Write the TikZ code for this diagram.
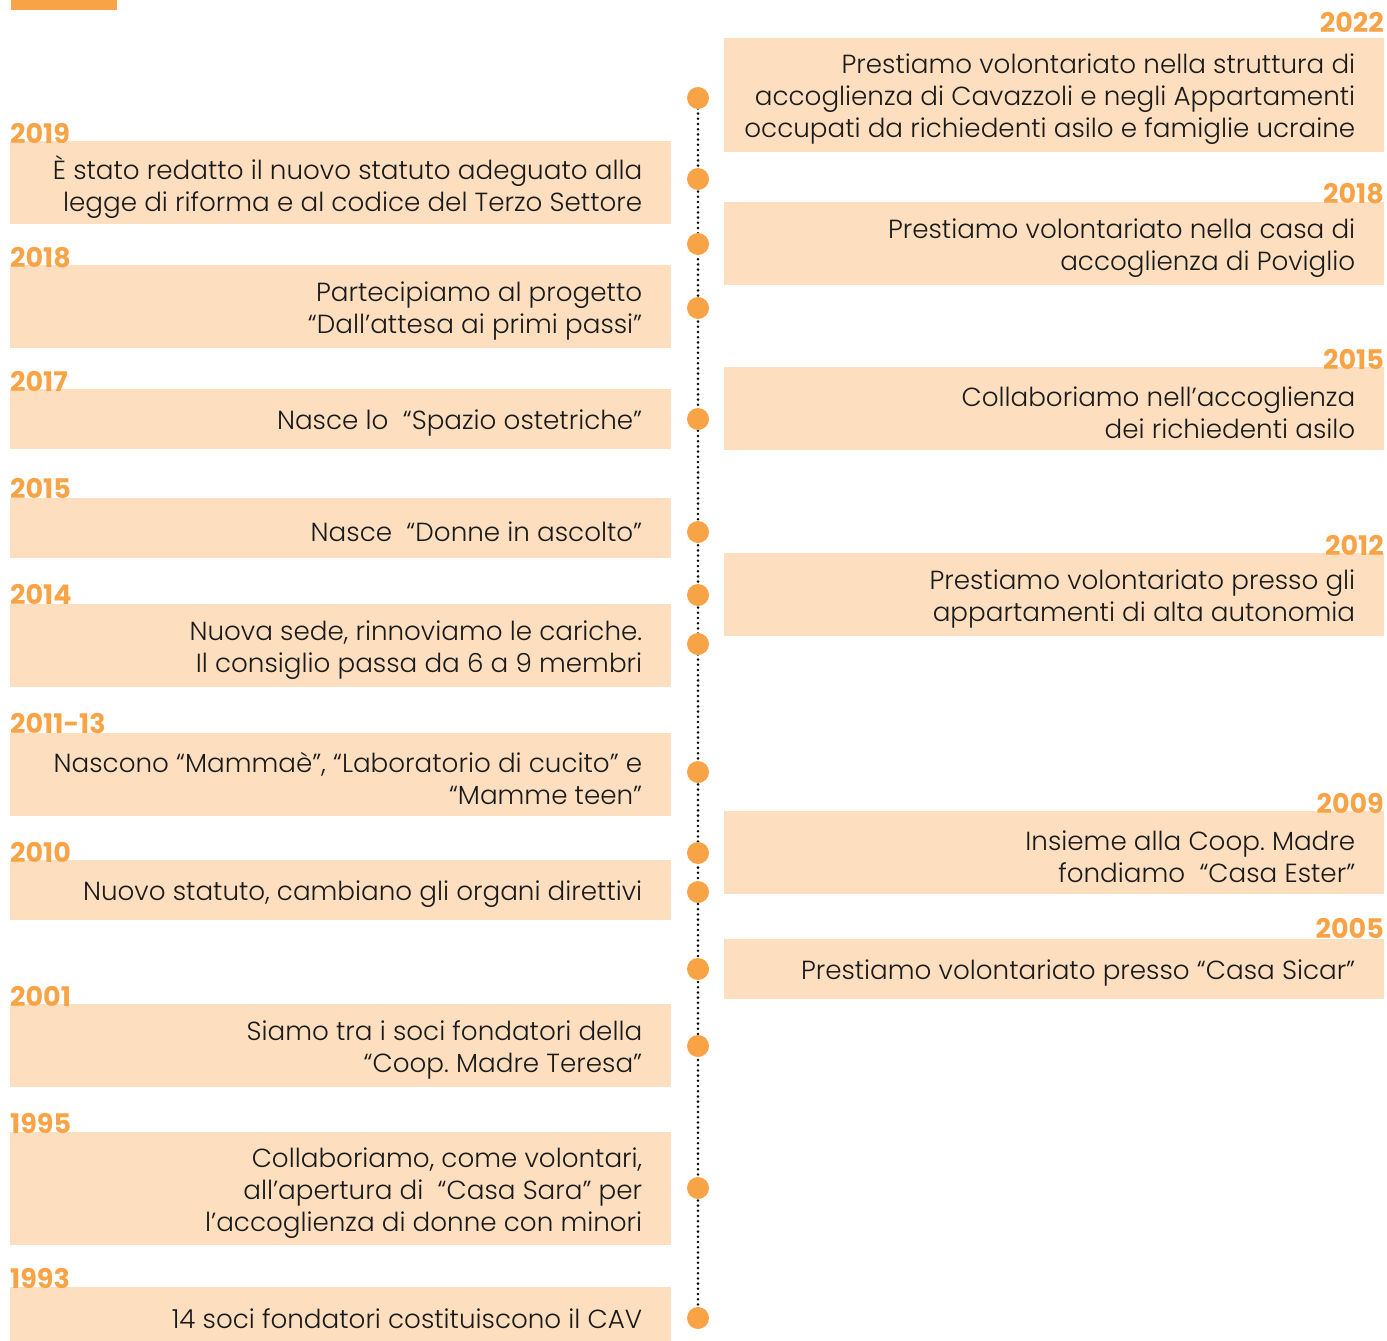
\documentclass[tikz,border=0pt]{standalone}
\usepackage{fontspec}
\setmainfont{Poppins}[UprightFont={* Light}, BoldFont={* Bold}]
\frenchspacing
\definecolor{orng}{HTML}{F9A347}
\definecolor{boxfill}{HTML}{FDDFC0}
\definecolor{txt}{HTML}{1A1A1A}
\newcommand\tlevent[6]{% name, x, y, width, height, text
  \node[evbox, minimum width=#4pt, minimum height=#5pt] (#1) at (#2,#3) {};
  \node[evtxt] (#1t) at ([shift={(-29,4)}]#1.east) {#6};}
\begin{document}
\begin{tikzpicture}[x=1pt,y=-1pt,
  evbox/.style={fill=boxfill, draw=none, anchor=north west, inner sep=0pt},
  evtxt/.style={anchor=east, inner sep=0pt, align=right, text=txt,
    font=\fontsize{26.2}{32}\selectfont},
  yearL/.style={anchor=base west, inner sep=0pt, text=orng, font=\fontsize{27}{30}\selectfont\bfseries},
  yearR/.style={anchor=base east, inner sep=0pt, text=orng, font=\fontsize{27}{30}\selectfont\bfseries},
  tdot/.style={circle, fill=orng, minimum size=22pt, inner sep=0pt},
  tline/.style={line width=2.8pt, dash pattern=on 0pt off 5.2pt, line cap=round, black}]
\useasboundingbox (0,0) rectangle (1387,1341);
\fill[orng] (11,0) rectangle (117,10);
% timeline dots
\foreach \n/\y in {1/98,2/179,3/244,4/308,5/419,6/532,7/595,8/644,9/772,10/853,11/892,12/969,13/1046,14/1188,15/1318}
  \coordinate (d\n) at (698,\y);
\draw[tline] (d1) -- (d15);
\foreach \n in {1,...,15} \node[tdot] (dot\n) at (d\n) {};
% left boxes
\tlevent{L1}{10}{141}{661}{83}{È stato redatto il nuovo statuto adeguato alla\\legge di riforma e al codice del Terzo Settore}
\node[yearL] (yL1) at (10,143) {2019};
\tlevent{L2}{10}{265}{661}{83}{Partecipiamo al progetto\\“Dall’attesa ai primi passi”}
\node[yearL] (yL2) at (10,267) {2018};
\tlevent{L3}{10}{389}{661}{60}{Nasce lo\ \ “Spazio ostetriche”}
\node[yearL] (yL3) at (10,391) {2017};
\tlevent{L4}{10}{498}{661}{60}{Nasce\ \ “Donne in ascolto”}
\node[yearL] (yL4) at (10,498) {2015};
\tlevent{L5}{10}{604}{661}{83}{Nuova sede, rinnoviamo le cariche.\\Il consiglio passa da 6 a 9 membri}
\node[yearL] (yL5) at (10,604) {2014};
\tlevent{L6}{10}{733}{661}{83}{Nascono “Mammaè”, “Laboratorio di cucito” e\\“Mamme teen”}
\node[yearL] (yL6) at (10,733) {2011-13};
\tlevent{L7}{10}{860}{661}{60}{Nuovo statuto, cambiano gli organi direttivi}
\node[yearL] (yL7) at (10,862) {2010};
\tlevent{L8}{10}{1004}{661}{83}{Siamo tra i soci fondatori della\\“Coop. Madre Teresa”}
\node[yearL] (yL8) at (10,1006) {2001};
\tlevent{L9}{10}{1132}{661}{113}{Collaboriamo, come volontari,\\all’apertura di\ \ “Casa Sara” per\\l’accoglienza di donne con minori}
\node[yearL] (yL9) at (10,1133) {1995};
\tlevent{L10}{10}{1287}{661}{54}{14 soci fondatori costituiscono il CAV}
\node[yearL] (yL10) at (10,1288) {1993};
% right boxes
\tlevent{R1}{724}{38}{660}{114}{Prestiamo volontariato nella struttura di\\accoglienza di Cavazzoli e negli Appartamenti\\occupati da richiedenti asilo e famiglie ucraine}
\node[yearR] (yR1) at (1384,32) {2022};
\tlevent{R2}{724}{202}{660}{83}{Prestiamo volontariato nella casa di\\accoglienza di Poviglio}
\node[yearR] (yR2) at (1384,203) {2018};
\tlevent{R3}{724}{367}{660}{83}{Collaboriamo nell’accoglienza\\dei richiedenti asilo}
\node[yearR] (yR3) at (1384,369) {2015};
\tlevent{R4}{724}{553}{660}{83}{Prestiamo volontariato presso gli\\appartamenti di alta autonomia}
\node[yearR] (yR4) at (1384,555) {2012};
\tlevent{R5}{724}{811}{660}{83}{Insieme alla Coop. Madre\\fondiamo\ \ “Casa Ester”}
\node[yearR] (yR5) at (1384,813) {2009};
\tlevent{R6}{724}{939}{660}{60}{Prestiamo volontariato presso “Casa Sicar”}
\node[yearR] (yR6) at (1384,938) {2005};
\end{tikzpicture}
\end{document}
